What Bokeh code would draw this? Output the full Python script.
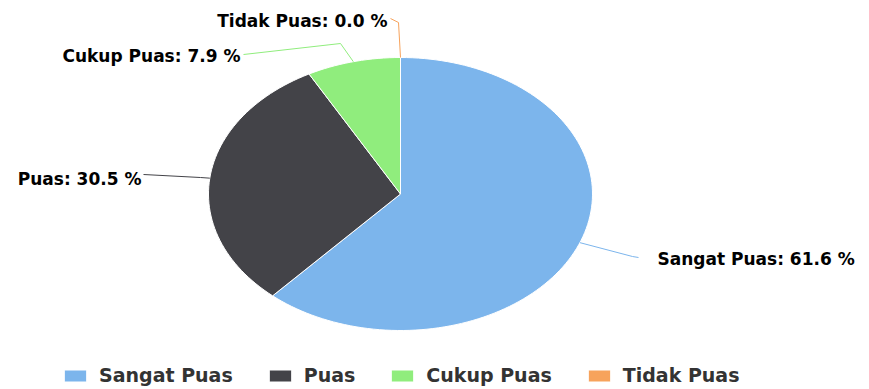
import math
from bokeh.plotting import figure
from bokeh.models import Range1d, Legend, LegendItem
from bokeh.core.properties import value
from bokeh.embed import file_html
from bokeh.resources import INLINE

# ---- data ----
categories = ["Sangat Puas", "Puas", "Cukup Puas", "Tidak Puas"]
percentages = [61.6, 30.5, 7.9, 0.0]
colors = ["#7cb5ec", "#434348", "#90ed7d", "#f7a35c"]

# ---- layout (reference pixel space) ----
CX, CY, RX, RY = 400, 193.5, 192, 136.5
label_pos = [(657, 258, "left"), (141, 178, "right"), (240, 55, "right"), (387, 20, "right")]
conn_start = [(638, 257), (143, 174), (243, 54), (390, 18)]
conn_elbow = [(632, 256), (200, 177), (340, 43), (398, 22)]

W, H = 869, 389
p = figure(width=W, height=H, x_range=Range1d(0, W), y_range=Range1d(H, 0),
           output_backend="svg", toolbar_location=None, min_border=0,
           outline_line_color=None, x_axis_type=None, y_axis_type=None)
p.grid.visible = False

total = sum(percentages)


def edge(frac):
    a = 2 * math.pi * frac
    return CX + RX * math.sin(a), CY - RY * math.cos(a)


items = []
cum = 0.0
for cat, pct, col in zip(categories, percentages, colors):
    f0 = cum / total
    f1 = (cum + pct) / total
    n = max(2, int(200 * (f1 - f0)) + 2)
    xs, ys = [CX], [CY]
    for i in range(n + 1):
        ex, ey = edge(f0 + (f1 - f0) * i / n)
        xs.append(ex)
        ys.append(ey)
    r = p.patch(xs, ys, fill_color=col, line_color="white", line_width=1)
    items.append(LegendItem(label=cat, renderers=[r]))
    cum += pct

# connectors and data labels
cum = 0.0
for i, (cat, pct, col) in enumerate(zip(categories, percentages, colors)):
    mid = (cum + pct / 2) / total
    ex, ey = edge(mid)
    sx, sy = conn_start[i]
    bx, by = conn_elbow[i]
    p.line([sx, bx, ex], [sy, by, ey], line_color=col, line_width=1)
    lx, ly, al = label_pos[i]
    p.text(x=[lx], y=[ly], text=[f"{cat}: {pct:.1f} %"], text_align=al,
           text_baseline="middle", text_font=value("DejaVu Sans"),
           text_font_style="bold", text_font_size="17px", text_color="#000000")
    cum += pct

legend = Legend(items=items, orientation="horizontal", location=(61, 3),
                glyph_width=28, glyph_height=15, label_standoff=10, spacing=33,
                padding=0, margin=0, border_line_color=None,
                background_fill_alpha=0, label_text_font="DejaVu Sans",
                label_text_font_style="bold", label_text_font_size="19px",
                label_text_color="#333333", label_height=15)
p.add_layout(legend, "center")

open("out.html", "w").write(file_html(p, INLINE))
